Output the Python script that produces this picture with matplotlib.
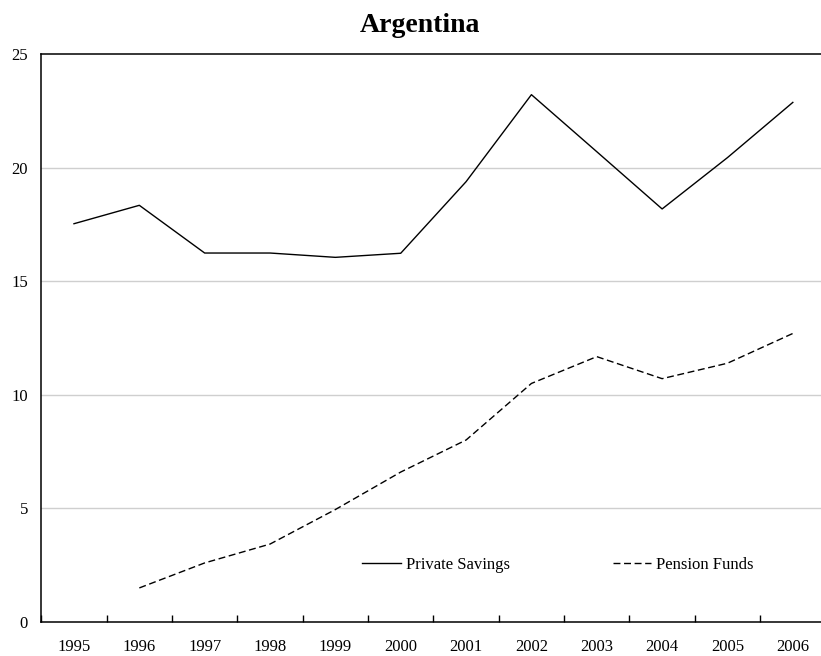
import numpy as np
import matplotlib
matplotlib.use('Agg')
import matplotlib.pyplot as plt

# Dados
anos = ['1995', '1996', '1997', '1998', '1999', '2000',
        '2001', '2002', '2003', '2004', '2005', '2006']
poupanca_privada = [17.53, 18.34, 16.24, 16.24, 16.05, 16.23,
                    19.38, 23.21, 20.70, 18.18, 20.44, 22.87]
fundos_pensao = [np.nan, 1.50, 2.60, 3.43, 4.95, 6.60,
                 8.01, 10.50, 11.68, 10.71, 11.39, 12.70]
rotulos_y = [0, 5, 10, 15, 20, 25]

plt.rcParams['font.family'] = ['Liberation Serif', 'DejaVu Serif']

fig = plt.figure(figsize=(8.21, 6.56), dpi=100)
ax = fig.add_axes([41.3 / 821, 34 / 656, 784.2 / 821, 568 / 656])

x = np.arange(len(anos))
ax.plot(x, poupanca_privada, color='black', lw=1.0, label='Private Savings')
ax.plot(x, fundos_pensao, color='black', lw=1.0, dashes=(5, 2.6),
        label='Pension Funds')

ax.set_xlim(-0.5, len(anos) - 0.5)
ax.set_ylim(0, 25)
ax.set_yticks(rotulos_y)
ax.set_yticklabels([str(v) for v in rotulos_y], fontsize=12)
ax.tick_params(axis='y', length=0, pad=9.5)

# ticks nas fronteiras das categorias, rótulos no centro
ax.set_xticks(np.arange(len(anos) + 1) - 0.5)
ax.set_xticklabels([])
ax.set_xticks(x, minor=True)
ax.set_xticklabels(anos, minor=True, fontsize=12)
ax.tick_params(axis='x', which='major', direction='in', length=5, width=1)
ax.tick_params(axis='x', which='minor', length=0, pad=12)

for v in rotulos_y[1:-1]:
    ax.axhline(v, color='#cfcfcf', lw=1.0, zorder=0)

for lado in ['left', 'bottom', 'top']:
    ax.spines[lado].set_linewidth(1.1)
    ax.spines[lado].set_color('black')
ax.spines['right'].set_visible(False)

ax.legend(loc='center', bbox_to_anchor=((558 - 41.3) / 784.2, 2.5 / 25),
          ncol=2, frameon=False, fontsize=12, handlelength=2.3,
          handletextpad=0.3, columnspacing=6.2)

fig.text(420 / 821, 1 - 32 / 656, 'Argentina', ha='center', va='baseline',
         fontsize=20, fontweight='bold')

fig.savefig('out.png', dpi=100)
